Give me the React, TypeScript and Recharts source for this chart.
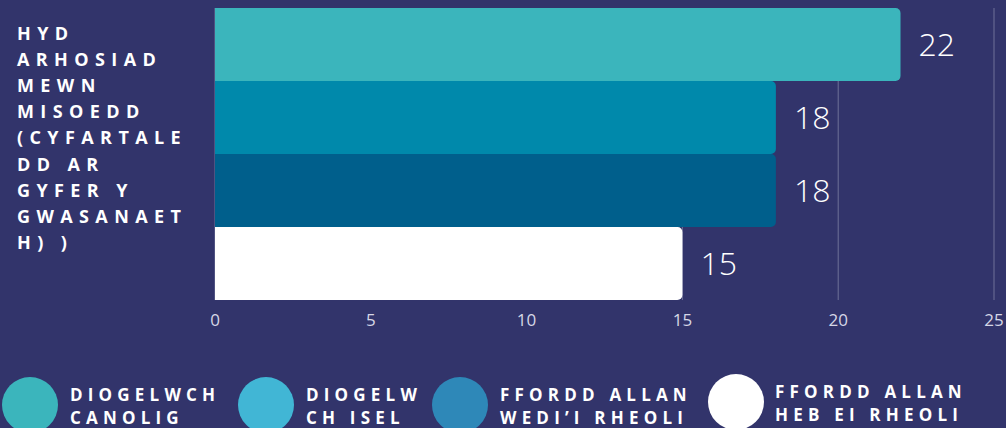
import React from "react";
import {
  BarChart,
  Bar,
  XAxis,
  YAxis,
  CartesianGrid,
  LabelList,
} from "recharts";

const categoryLines = [
  "HYD",
  "ARHOSIAD",
  "MEWN",
  "MISOEDD",
  "(CYFARTALE",
  "DD AR",
  "GYFER Y",
  "GWASANAET",
  "H) )",
];
const category = "HYD ARHOSIAD MEWN MISOEDD (CYFARTALEDD AR GYFER Y GWASANAETH) )";

const seriesKeys = ["canolig", "isel", "wedi", "heb"];
const seriesValues = [22, 18, 18, 15];
const seriesNames = [
  ["DIOGELWCH", "CANOLIG"],
  ["DIOGELW", "CH ISEL"],
  ["FFORDD ALLAN", "WEDI\u2019I RHEOLI"],
  ["FFORDD ALLAN", "HEB EI RHEOLI"],
];
const barColors = ["#3BB5BC", "#0089AB", "#005F8C", "#FFFFFF"];
const legendColors = ["#3BB5BC", "#41B6D5", "#2E88B8", "#FFFFFF"];
const xTicks = [0, 5, 10, 15, 20, 25];

const BG = "#32346B";
const FONT = "'Open Sans', 'DejaVu Sans', sans-serif";

const row: Record<string, string | number> = { name: category };
seriesKeys.forEach((k, i) => {
  row[k] = seriesValues[i];
});
const data = [row];

// category label is wrapped by hand, top-aligned like the original
function CategoryTick({ y }: { y?: number }) {
  const top = (y ?? 0) - 114;
  return (
    <text
      fill="#FFFFFF"
      fontFamily={FONT}
      fontWeight={700}
      fontSize={18}
      letterSpacing={6.4}
    >
      {categoryLines.map((line, i) => (
        <tspan key={i} x={17} y={top + i * 26.1}>
          {line}
        </tspan>
      ))}
    </text>
  );
}

// legend placement (circle centre x, text x, vertical nudge)
const legendPos = [
  { cx: 30, tx: 70, dy: 0 },
  { cx: 266, tx: 306, dy: 0 },
  { cx: 460, tx: 500, dy: 0 },
  { cx: 736, tx: 775, dy: -3 },
];

function ChartLegend() {
  return (
    <div style={{ position: "absolute", left: 0, top: 0, width: 1006, height: 428 }}>
      {seriesNames.map((lines, i) => {
        const p = legendPos[i];
        return (
          <React.Fragment key={i}>
            <div
              style={{
                position: "absolute",
                left: p.cx - 28,
                top: 377 + p.dy,
                width: 56,
                height: 56,
                borderRadius: "50%",
                backgroundColor: legendColors[i],
              }}
            />
            <div
              style={{
                position: "absolute",
                left: p.tx,
                top: 383 + p.dy,
                color: "#FFFFFF",
                fontFamily: FONT,
                fontWeight: 700,
                fontSize: 17,
                letterSpacing: 5.2,
                lineHeight: "23px",
                whiteSpace: "nowrap",
              }}
            >
              {lines.map((l, j) => (
                <div key={j}>{l}</div>
              ))}
            </div>
          </React.Fragment>
        );
      })}
    </div>
  );
}

export default function App() {
  return (
    <div
      style={{
        position: "fixed",
        left: 0,
        top: 0,
        width: 1006,
        height: 428,
        background: BG,
        overflow: "hidden",
      }}
    >
      <BarChart
        width={1006}
        height={428}
        data={data}
        layout="vertical"
        margin={{ top: 8, right: 12, bottom: 98, left: 0 }}
        barCategoryGap={0}
        barGap={0}
      >
        <CartesianGrid horizontal={false} stroke="#6F7199" strokeWidth={1} />
        <XAxis
          type="number"
          domain={[0, 25]}
          ticks={xTicks}
          axisLine={false}
          tickLine={false}
          tickMargin={8}
          height={30}
          tick={{ fill: "#D6D7E6", fontSize: 17, fontFamily: FONT, fontWeight: 400 }}
        />
        <YAxis
          type="category"
          dataKey="name"
          width={215}
          axisLine={false}
          tickLine={false}
          tick={<CategoryTick />}
        />
        {seriesKeys.map((k, i) => (
          <Bar
            key={k}
            dataKey={k}
            fill={barColors[i]}
            radius={[0, 5, 5, 0]}
            isAnimationActive={false}
          >
            <LabelList
              dataKey={k}
              position="right"
              offset={18}
              fill="#FFFFFF"
              fontSize={32}
              fontFamily={FONT}
              fontWeight={300}
            />
          </Bar>
        ))}
      </BarChart>
      <ChartLegend />
    </div>
  );
}
